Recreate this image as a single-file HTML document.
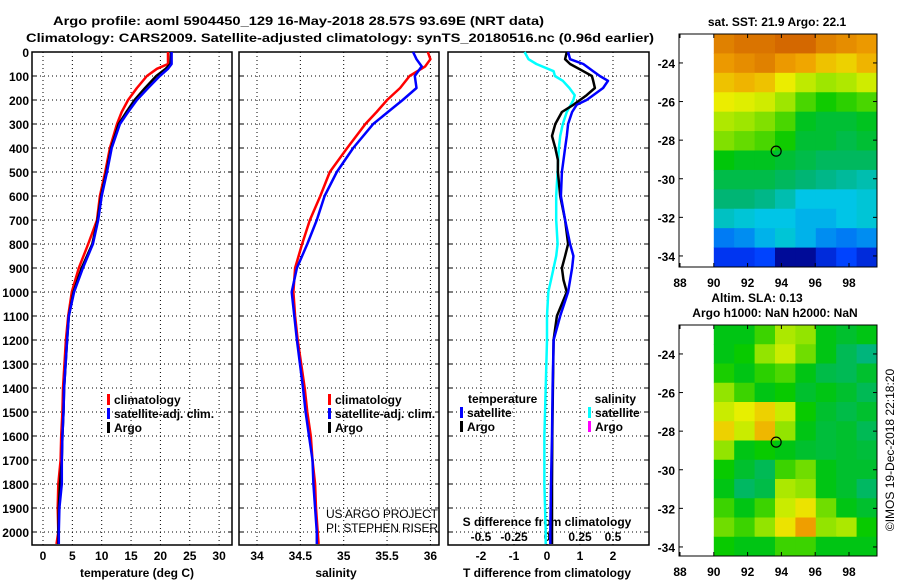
<!DOCTYPE html>
<html><head><meta charset="utf-8">
<style>
html,body{margin:0;padding:0;background:#fff;}
svg{display:block;font-family:"Liberation Sans",sans-serif;}
text{font-weight:bold;font-size:12px;fill:#000;}
</style></head>
<body>
<svg id="chart" width="900" height="580" viewBox="0 0 900 580" xmlns="http://www.w3.org/2000/svg">
<text x="53" y="25" font-size="14" textLength="491" lengthAdjust="spacingAndGlyphs">Argo profile: aoml 5904450_129 16-May-2018 28.57S 93.69E (NRT data)</text>
<text x="26" y="42" font-size="14" textLength="628" lengthAdjust="spacingAndGlyphs">Climatology: CARS2009. Satellite-adjusted climatology: synTS_20180516.nc (0.96d earlier)</text>
<g id="g"></g>
</svg>
<script>
// ---- profile data ----
const tDepth   = [0,50,70,100,150,200,250,300,400,500,600,700,800,900,1000,1100,1200,1400,1500,1600,1700,1800,1900,2000,2050];
const tClim    = [21.3,21.3,19.4,17.7,16.0,14.5,13.4,12.6,11.4,10.6,9.7,9.2,7.7,6.1,4.9,4.3,3.9,3.4,3.3,3.1,3.0,2.6,2.5,2.6,2.3];
const tSat     = [21.9,21.9,21.3,19.9,17.9,16.0,14.5,13.1,11.7,10.9,10.0,9.4,8.5,6.8,5.3,4.4,4.1,3.6,3.5,3.3,3.2,3.2,2.8,2.7,2.7];
const tArgo    = [21.8,21.7,20.9,19.3,17.4,15.6,14.2,12.9,11.6,10.8,9.9,9.3,8.4,6.6,5.2,4.4,4.1,3.6,3.5,3.3,3.2,2.9,2.7,2.6,2.6];
const sDepth   = [0,30,60,100,150,200,250,300,400,500,600,700,800,900,1000,1100,1200,1400,1500,1600,1700,1800,1900,2000,2050];
const sClim    = [35.97,36.0,35.94,35.76,35.65,35.5,35.38,35.25,35.04,34.84,34.73,34.61,34.52,34.44,34.42,34.44,34.47,34.55,34.58,34.62,34.64,34.67,34.68,34.7,34.71];
const sSat     = [35.8,35.84,35.9,35.82,35.84,35.68,35.51,35.34,35.11,34.92,34.78,34.69,34.58,34.46,34.4,34.43,34.46,34.53,34.56,34.6,34.64,34.65,34.67,34.69,34.69];
const dDepth   = [0,30,50,80,100,120,150,180,200,220,250,300,350,400,450,500,600,700,800,850,900,950,1000,1100,1200,1400,1600,1800,2000,2050];
const dTSat    = [0.64,0.7,1.1,1.4,1.6,1.85,1.7,1.4,1.2,0.9,0.76,0.64,0.6,0.55,0.5,0.45,0.42,0.55,0.7,0.8,0.76,0.7,0.64,0.4,0.2,0.17,0.15,0.12,0.1,0.1];
const dTArgo   = [0.6,0.55,0.7,1.1,1.36,1.4,1.45,1.2,1.0,0.8,0.45,0.25,0.15,0.25,0.33,0.33,0.4,0.55,0.64,0.55,0.45,0.5,0.6,0.3,0.2,0.18,0.16,0.15,0.15,0.15];
const dSSat    = [-0.17,-0.14,-0.08,0.05,0.06,0.12,0.17,0.21,0.2,0.18,0.15,0.12,0.1,0.09,0.085,0.08,0.07,0.07,0.08,0.07,0.05,0.03,0.01,0,0,-0.01,-0.02,-0.02,-0.01,-0.01];
const depthTicks = [0,100,200,300,400,500,600,700,800,900,1000,1100,1200,1300,1400,1500,1600,1700,1800,1900,2000];
const tTicks = [0,5,10,15,20,25,30];
const sTicks = [34,34.5,35,35.5,36];
const sTickLabels = ["34","34.5","35","35.5","36"];
const dTTicks = [-2,-1,0,1,2];
const dSTicks = [-0.5,-0.25,0,0.25,0.5];
const dSTickLabels = ["-0.5","-0.25","0","0.25","0.5"];
// ---- map data (8 cols lon 90..99.6, 12 rows lat -22.5..-34.6) ----
const sstRows = [
 [22.6,22.7,22.7,22.8,22.8,22.6,22.5,22.4],
 [22.4,22.5,22.6,22.4,22.3,22.1,22.0,22.2],
 [22.1,22.2,22.1,21.8,21.5,21.3,21.4,21.6],
 [21.8,21.7,21.6,21.3,21.0,20.8,20.9,21.0],
 [21.4,21.3,21.2,21.0,20.6,20.5,20.5,20.6],
 [21.2,21.1,21.0,20.8,20.5,20.5,20.4,20.5],
 [20.7,20.6,20.6,20.5,20.4,20.3,20.3,20.3],
 [20.4,20.4,20.4,20.3,20.2,20.1,20.0,19.9],
 [20.2,20.2,20.1,19.9,19.6,19.6,19.6,19.7],
 [19.8,19.7,19.6,19.6,19.5,19.5,19.6,19.7],
 [19.2,19.3,19.5,19.7,19.5,19.3,19.2,19.3],
 [18.8,18.8,18.9,18.4,18.4,18.7,18.9,18.7]];
const slaRows = [
 [0.0,0.0,0.05,0.12,0.1,0.0,-0.02,0.0],
 [0.0,0.02,0.1,0.15,0.08,0.0,-0.05,-0.08],
 [0.03,0.0,0.04,0.06,0.0,-0.04,-0.05,-0.02],
 [0.1,0.05,0.0,0.02,-0.02,0.0,-0.02,-0.05],
 [0.15,0.18,0.22,0.15,0.02,-0.02,-0.04,-0.02],
 [0.22,0.15,0.25,0.1,0.0,-0.03,-0.02,-0.05],
 [0.1,0.0,0.02,0.0,-0.02,-0.03,-0.02,-0.03],
 [0.02,-0.02,-0.05,0.05,0.08,0.0,-0.02,-0.02],
 [0.0,-0.06,-0.04,0.12,0.1,0.0,-0.02,-0.06],
 [0.05,0.0,0.05,0.15,0.2,0.08,0.0,-0.02],
 [0.08,0.05,0.1,0.2,0.28,0.1,0.12,0.02],
 [0.02,0.0,0.0,0.05,0.05,0.0,0.0,0.0]];
const lonTicks = [88,90,92,94,96,98];
const latTicks = [-24,-26,-28,-30,-32,-34];

// ---- scales ----
const PT=52, PB=545;
const yD = d => PT + d*0.24;
const p1 = {x0:32,x1:232}, p2={x0:239,x1:439}, p3={x0:448,x1:649};
const xT = t => 43 + t*5.87;
const xS = s => 257 + (s-34)*86.7;
const xDT = t => 547 + t*33;
const xDS = s => 547 + s*132;
const mapTop = {x0:679,x1:877,y0:34,y1:267};
const mapBot = {x0:679,x1:877,y0:325,y1:556};
const lonX = lon => 680 + (lon-88)*16.9;
const latY = (m,lat) => m.y0 + (-22.5-lat)*19.3;

const NS="http://www.w3.org/2000/svg";
const g=document.getElementById('g');
function el(tag,attrs,parent){const e=document.createElementNS(NS,tag);for(const k in attrs)e.setAttribute(k,attrs[k]);(parent||g).appendChild(e);return e;}
function txt(x,y,s,anchor,size,name){const t=el('text',{x:x,y:y,'text-anchor':anchor||'start','font-size':size||12});t.textContent=s;


return t;}

function panel(p,xticks,xfn,xlabels,name){
  const gp=el('g',{});
  
  
  depthTicks.forEach(d=>{ if(d>0) el('line',{x1:p.x0,x2:p.x1,y1:yD(d),y2:yD(d),stroke:'#000','stroke-dasharray':'1,3','stroke-width':1},gp);
    el('line',{x1:p.x0,x2:p.x0+4,y1:yD(d),y2:yD(d),stroke:'#000'},gp);
    el('line',{x1:p.x1,x2:p.x1-4,y1:yD(d),y2:yD(d),stroke:'#000'},gp);});
  xticks.forEach((v,i)=>{const x=xfn(v);
    el('line',{x1:x,x2:x,y1:PT,y2:PB,stroke:'#000','stroke-dasharray':'1,3'},gp);
    if(xlabels){const t=txt(x,560,xlabels[i],'middle',13,'x-tick-label');gp.appendChild(t);}});
  el('rect',{x:p.x0,y:PT,width:p.x1-p.x0,height:PB-PT,fill:'none',stroke:'#000','stroke-width':1.5},gp);
  return gp;
}
function line(xs,ds,xfn,color,name,w){
  const pts=xs.map((v,i)=>xfn(v).toFixed(1)+','+yD(ds[i]).toFixed(1)).join(' ');
  const pl=el('polyline',{points:pts,fill:'none',stroke:color,'stroke-width':w||2.5,'stroke-linejoin':'round'});
  
  
}
panel(p1,tTicks,xT,tTicks.map(String),'temperature-panel');
panel(p2,sTicks,xS,sTickLabels,'salinity-panel');
panel(p3,dTTicks,xDT,dTTicks.map(String),'difference-panel');
depthTicks.forEach(d=>{txt(29,yD(d)+5,String(d),'end',13,'y-tick-label');});
txt(137,577,'temperature (deg C)','middle',13,'x-axis-title-temperature');
txt(336,577,'salinity','middle',13,'x-axis-title-salinity');
txt(547,577,'T difference from climatology','middle',13,'x-axis-title-t-diff');
txt(547,526,'S difference from climatology','middle',13,'s-diff-axis-title');
dSTicks.forEach((v,i)=>txt(xDS(v),541,dSTickLabels[i],'middle',13,'s-diff-tick-label'));

line(tClim,tDepth,xT,'#ff0000','temperature-climatology-line');
line(tArgo,tDepth,xT,'#000000','temperature-argo-line');
line(tSat,tDepth,xT,'#0000ff','temperature-satellite-line');
line(sClim,sDepth,xS,'#ff0000','salinity-climatology-line');
line(sSat,sDepth,xS,'#0000ff','salinity-satellite-line');
line(dSSat,dDepth,xDS,'#00ffff','s-diff-satellite-line');
line(dTArgo,dDepth,xDT,'#000000','t-diff-argo-line');
line(dTSat,dDepth,xDT,'#0000ff','t-diff-satellite-line');

function legend(x,y,items,name){
  items.forEach((it,i)=>{const r=el('rect',{x:x,y:y+i*14-10,width:3,height:11,fill:it[1]});
    
    
    txt(x+7,y+i*14,it[0],'start',13,name+'-entry');});
}
legend(107,404,[['climatology','#ff0000'],['satellite-adj. clim.','#0000ff'],['Argo','#000']],'legend-temperature');
legend(328,404,[['climatology','#ff0000'],['satellite-adj. clim.','#0000ff'],['Argo','#000']],'legend-salinity');
txt(468,403,'temperature','start',13,'legend-diff-temperature-header');
txt(636,403,'salinity','end',13,'legend-diff-salinity-header');
legend(460,417,[['satellite','#0000ff'],['Argo','#000']],'legend-diff-temperature');
legend(588,417,[['satellite','#00ffff'],['Argo','#ff00ff']],'legend-diff-salinity');
const c1=txt(326,518,'US ARGO PROJECT','start',13,'credit-project');
const c2=txt(326,532,'PI: STEPHEN RISER','start',13,'credit-pi');
[c1,c2].forEach(e=>{e.style.fontWeight='normal';e.setAttribute('textLength',112);});

// ---- maps ----
const stops=[[0,[0,0,130]],[0.12,[0,60,255]],[0.28,[0,200,230]],[0.4,[0,180,120]],[0.52,[0,200,0]],[0.64,[160,230,0]],[0.74,[235,240,0]],[0.86,[240,160,0]],[1,[200,80,0]]];
function cmap(v){v=Math.max(0,Math.min(1,v));for(let i=1;i<stops.length;i++){if(v<=stops[i][0]){const a=stops[i-1],b=stops[i],f=(v-a[0])/(b[0]-a[0]);return 'rgb('+a[1].map((c,k)=>Math.round(c+(b[1][k]-c)*f)).join(',')+')';}}return 'rgb(200,80,0)';}
function drawMap(m,rows,norm,name){
  const gm=el('g',{});
  
  
  const x0=lonX(90), w=(m.x1-x0)/rows[0].length, h=(m.y1-m.y0)/rows.length;
  rows.forEach((row,j)=>row.forEach((v,i)=>{const c=el('rect',{x:x0+i*w,y:m.y0+j*h,width:w+0.5,height:h+0.5,fill:cmap(norm(v))},gm);
    
    }));
  el('rect',{x:m.x0,y:m.y0,width:m.x1-m.x0,height:m.y1-m.y0,fill:'none',stroke:'#000','stroke-width':1},gm);
  lonTicks.forEach(l=>{el('line',{x1:lonX(l),x2:lonX(l),y1:m.y1,y2:m.y1-4,stroke:'#000'},gm);el('line',{x1:lonX(l),x2:lonX(l),y1:m.y0,y2:m.y0+4,stroke:'#000'},gm);
    txt(lonX(l),m.y1+20,String(l),'middle',13,'lon-tick-label');});
  latTicks.forEach(l=>{const y=latY(m,l);el('line',{x1:m.x0,x2:m.x0+4,y1:y,y2:y,stroke:'#000'},gm);el('line',{x1:m.x1,x2:m.x1-4,y1:y,y2:y,stroke:'#000'},gm);
    txt(675,y+5,String(l),'end',13,'lat-tick-label');});
  const c=el('circle',{cx:lonX(93.69),cy:latY(m,-28.57),r:5,fill:'none',stroke:'#000','stroke-width':1.2},gm);
  
  
}
drawMap(mapTop,sstRows,v=>(v-18.3)/(23-18.3),'sst-map');
drawMap(mapBot,slaRows,v=>0.5+v*1.3,'sla-map');
txt(777,26,'sat. SST: 21.9 Argo: 22.1','middle',13,'sst-map-title');
txt(757,302,'Altim. SLA: 0.13','middle',13,'sla-map-title');
txt(775,317,'Argo h1000: NaN h2000: NaN','middle',13,'argo-height-title');
const cr=txt(0,0,'©IMOS 19-Dec-2018 22:18:20','middle',13,'copyright-label');
cr.setAttribute('transform','translate(894,450) rotate(-90)');
cr.style.fontWeight='normal';
</script>
</body></html>
